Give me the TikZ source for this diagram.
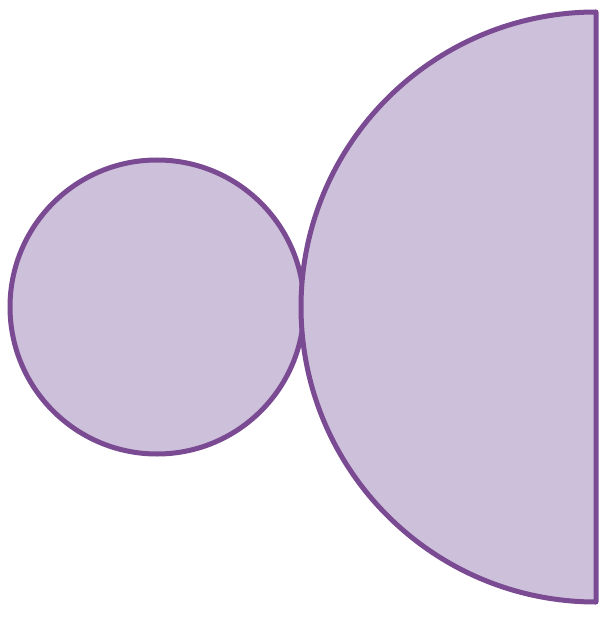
\documentclass[tikz,border=0pt]{standalone}
\usepackage{xcolor}
\usepackage{tikz}
\definecolor{lilacline}{HTML}{7A4A92}
\definecolor{lilacfill}{HTML}{CDC0DB}

\begin{document}
\begin{tikzpicture}[x=1pt,y=-1pt,
  disc/.style={draw=lilacline,fill=lilacfill,line width=5pt,line join=round}]
  \useasboundingbox (0,0) rectangle (599,617);
  % small circle on the left
  \draw[disc] (157,307) circle[radius=147];
  % large half disc cut off by the right edge
  \draw[disc] (596,12) arc[start angle=-90,end angle=-270,radius=295] -- cycle;
\end{tikzpicture}
\end{document}
